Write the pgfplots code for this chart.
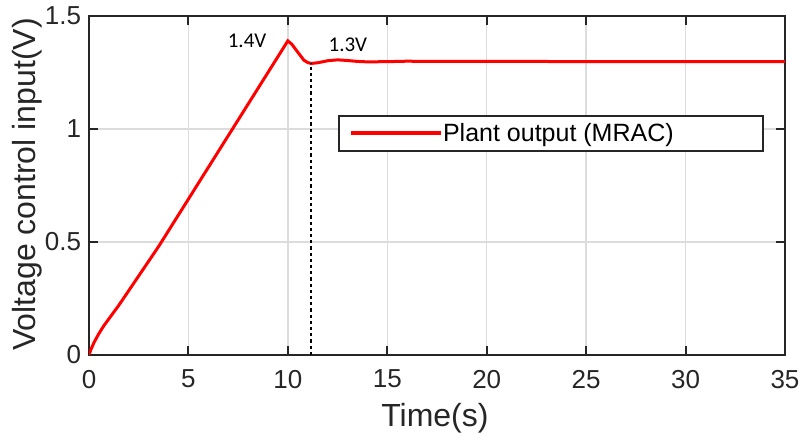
\documentclass[border=0pt]{standalone}
\usepackage{fontspec}
\setmainfont{Liberation Sans}
\newfontfamily\calib{Carlito}
\usepackage{pgfplots}
\pgfplotsset{compat=1.18}
\definecolor{axgray}{RGB}{38,38,38}
\definecolor{gridgray}{RGB}{220,220,220}

\begin{document}
\begin{tikzpicture}
\useasboundingbox (0,0) rectangle (401.5bp,219bp);
\begin{axis}[at={(44.5bp,41.5bp)},anchor=south west,scale only axis,
 width=348bp,height=169.5bp,
 xmin=0,xmax=35,ymin=0,ymax=1.5,
 xtick={0,5,...,35},ytick={0,0.5,1,1.5},
 axis line style={axgray,line width=1.25bp},
 tick style={axgray,line width=1bp},major tick length=4.5bp,
 tick align=inside,
 grid=major,grid style={gridgray,line width=0.75bp},
 /pgf/number format/assume math mode=true,
 tick label style={font=\fontsize{13bp}{15bp}\selectfont,text=axgray},
 xticklabel style={yshift=-4bp},
 yticklabel style={xshift=-0.5bp},
 label style={font=\fontsize{16bp}{18bp}\selectfont,text=axgray},
 xlabel={Time(s)},ylabel={Voltage control input(V)},
 xlabel style={at={(axis description cs:0.497,-0.186)},anchor=center},
 ylabel style={at={(axis description cs:-0.089,0.503)},anchor=center},
 legend style={at={(axis description cs:0.358,0.708)},anchor=north west,
  draw=axgray,line width=0.9bp,inner xsep=5bp,inner ysep=1.5bp,
  font=\fontsize{12.5bp}{14bp}\selectfont,
  nodes={inner xsep=0pt,inner ysep=2bp}},
 legend image code/.code={\draw[#1,line width=2bp] (0bp,0bp) -- (45bp,0bp);},
 legend entries={\makebox[155bp][l]{Plant output (MRAC)}},
]
\addplot[red,line width=1.5bp] coordinates {
 (0,0) (0.1,0.025) (0.25,0.055) (0.5,0.095) (0.75,0.13) (1.0,0.16) (1.5,0.22)
 (2,0.285) (2.5,0.35) (3,0.415) (3.5,0.48) (4,0.55) (5,0.69) (6,0.83) (7,0.97)
 (8,1.11) (9,1.25) (10,1.39) (10.2,1.375) (10.5,1.34) (10.8,1.305) (11.0,1.294)
 (11.17,1.29) (11.5,1.293) (12,1.302) (12.5,1.306) (13,1.303) (13.5,1.299)
 (14,1.297) (15,1.298) (16,1.300) (17,1.299) (35,1.298)};
\addplot[black,line width=1.1bp,dash pattern=on 1.6bp off 1.5bp,forget plot]
 coordinates {(11.17,0) (11.17,1.29)};
\node[font=\calib\fontsize{10.5bp}{12bp}\selectfont] at (axis cs:7.95,1.389) {1.4V};
\node[font=\calib\fontsize{10.5bp}{12bp}\selectfont] at (axis cs:13.02,1.372) {1.3V};
\node[font=\fontsize{10bp}{12bp}\selectfont,text=axgray] at (axis cs:12.47,-0.12) {11.17};
\end{axis}
\end{tikzpicture}
\end{document}
